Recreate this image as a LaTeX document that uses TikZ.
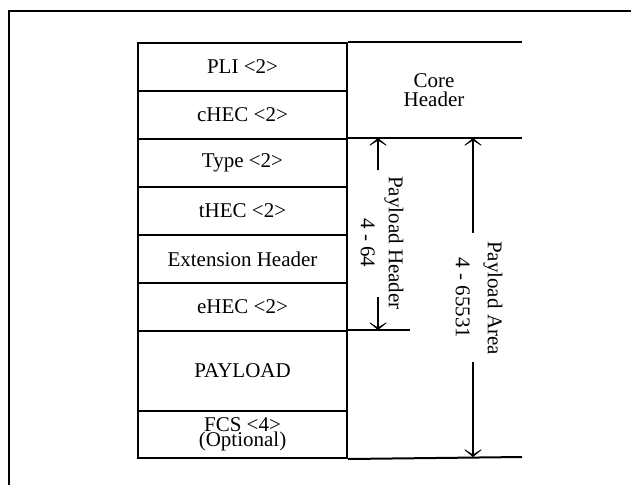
\documentclass[tikz,border=0pt]{standalone}
\usepackage{fontspec}
\setmainfont{Liberation Serif}
\usetikzlibrary{arrows.meta}

\begin{document}
\begin{tikzpicture}[x=1pt,y=-1pt,
        rule/.style={line width=2pt},
        cell/.style={draw,line width=2pt,anchor=north west,inner sep=0pt,
                     minimum width=209pt,minimum height=48pt,align=center,
                     font=\fontsize{21}{21}\selectfont},
        lbl/.style={align=center,inner sep=0pt},
        dim/.style={-{Stealth[length=10pt,width=24pt,inset=7.5pt]},line width=2pt}]
        \useasboundingbox (0,0) rectangle (631,485);
        % outer frame
        \draw[rule] (9,485) -- (9,11) -- (631,11);
        % frame fields
        \node[cell] (pli)  at (137,42)  {PLI <2>};
        \node[cell] (chec) at (137,90)  {cHEC <2>};
        \node[cell] (type) at (137,138) {Type <2>};
        \node[cell] (thec) at (137,186) {tHEC <2>};
        \node[cell] (ext)  at (137,234) {Extension Header};
        \node[cell] (ehec) at (137,282) {eHEC <2>};
        \node[cell,minimum height=80pt] (pay) at (137,330) {PAYLOAD};
        \node[cell,minimum height=47pt,font=\fontsize{21}{15}\selectfont]
              (fcs) at (137,410) {FCS <4>\\(Optional)};
        % right column rules
        \draw[rule] (pli.north east) -- (522,42);
        \draw[rule] (type.north east) -- (522,138);
        \draw[rule] (pay.north east) -- (410,330);
        \draw[rule] (fcs.south east) -- (522,457);
        \node[lbl,font=\fontsize{21}{19}\selectfont] (core) at (434,90) {Core\\Header};
        % payload header span
        \node[lbl,rotate=-90,font=\fontsize{21}{28}\selectfont] (phlbl) at (382,243)
              {Payload Header\\4 - 64};
        \coordinate (phtop) at (378,138);
        \coordinate (phgapa) at (378,170);
        \coordinate (phgapb) at (378,297);
        \coordinate (phbot) at (378,330);
        \draw[dim] (phgapa) -- (phtop);
        \draw[dim] (phgapb) -- (phbot);
        % payload area span
        \node[lbl,rotate=-90,font=\fontsize{21}{32}\selectfont] (palbl) at (479,298)
              {Payload Area\\4 - 65531};
        \coordinate (patop) at (473,138);
        \coordinate (pagapa) at (473,233);
        \coordinate (pagapb) at (473,362);
        \coordinate (pabot) at (473,457);
        \draw[dim] (pagapa) -- (patop);
        \draw[dim] (pagapb) -- (pabot);
      \end{tikzpicture}
\end{document}
